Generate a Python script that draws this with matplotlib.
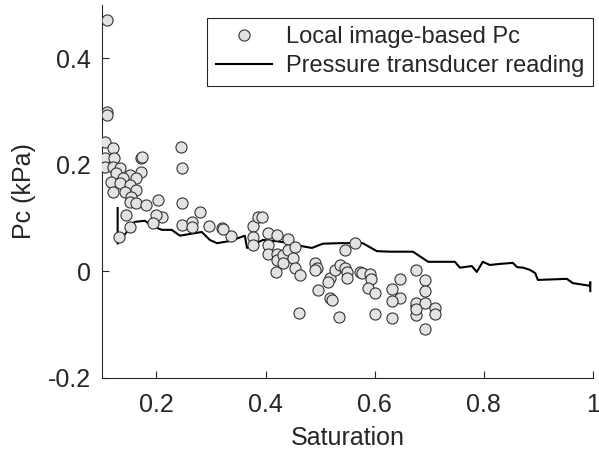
import numpy as np
import matplotlib.pyplot as plt

plt.rcParams['font.family'] = ['Liberation Sans', 'DejaVu Sans']

# image-based Pc (scatter)
sat_img = [0.109, 0.109, 0.109, 0.1055, 0.120, 0.1055, 0.122, 0.1055, 0.120, 0.133,
           0.171, 0.171, 0.126, 0.151, 0.138, 0.162, 0.117, 0.133, 0.151, 0.162,
           0.120, 0.142, 0.153, 0.151, 0.162, 0.181, 0.203, 0.245, 0.173,
           0.247, 0.247, 0.280, 0.144, 0.151, 0.131, 0.210, 0.199, 0.193,
           0.247, 0.265, 0.265, 0.296, 0.320, 0.336, 0.377, 0.386, 0.377, 0.377,
           0.322, 0.393, 0.404, 0.421, 0.441, 0.404, 0.404, 0.421, 0.421, 0.432,
           0.441, 0.454, 0.450, 0.432, 0.454, 0.463, 0.419, 0.490, 0.494, 0.490,
           0.496, 0.518, 0.514, 0.527, 0.518, 0.461, 0.534, 0.522, 0.545, 0.564,
           0.536, 0.545, 0.549, 0.549, 0.573, 0.577, 0.591, 0.593, 0.588, 0.600,
           0.646, 0.632, 0.646, 0.632, 0.676, 0.676, 0.676, 0.600, 0.632, 0.692,
           0.692, 0.676, 0.692, 0.710, 0.710, 0.692, 0.676]
pc_img = [0.472, 0.299, 0.294, 0.243, 0.232, 0.213, 0.213, 0.196, 0.196, 0.194,
          0.213, 0.187, 0.185, 0.181, 0.175, 0.175, 0.168, 0.166, 0.162, 0.153,
          0.149, 0.149, 0.140, 0.130, 0.129, 0.125, 0.134, 0.234, 0.215,
          0.194, 0.129, 0.112, 0.106, 0.083, 0.065, 0.102, 0.106, 0.090,
          0.087, 0.093, 0.083, 0.085, 0.082, 0.067, 0.085, 0.102, 0.065, 0.050,
          0.080, 0.102, 0.072, 0.068, 0.061, 0.050, 0.033, 0.033, 0.022, 0.031,
          0.040, 0.046, 0.025, 0.016, 0.007, -0.007, -0.001, 0.016, 0.007, 0.003,
          -0.035, -0.012, -0.020, 0.003, -0.050, -0.078, -0.085, -0.053, 0.040, 0.053,
          0.012, 0.007, -0.001, -0.012, -0.001, -0.003, -0.005, -0.014, -0.031, -0.040,
          -0.014, -0.033, -0.050, -0.055, 0.003, -0.065, -0.082, -0.080, -0.087, -0.016,
          -0.037, -0.059, -0.059, -0.068, -0.080, -0.108, -0.070]

# pressure transducer reading (line)
sat_pt = [0.129, 0.129, 0.160, 0.179, 0.193, 0.210, 0.228, 0.243, 0.283, 0.298,
          0.311, 0.335, 0.362, 0.366, 0.395, 0.417, 0.445, 0.463, 0.485, 0.505,
          0.536, 0.578, 0.604, 0.628, 0.670, 0.698, 0.747, 0.756, 0.778, 0.787,
          0.798, 0.811, 0.829, 0.853, 0.861, 0.872, 0.884, 0.894, 0.899, 0.952,
          0.963, 0.994, 0.995, 0.995]
pc_pt = [0.119, 0.052, 0.093, 0.095, 0.085, 0.078, 0.078, 0.067, 0.074, 0.059,
         0.053, 0.057, 0.067, 0.044, 0.059, 0.057, 0.053, 0.048, 0.044, 0.052,
         0.053, 0.053, 0.038, 0.037, 0.037, 0.018, 0.018, 0.007, 0.010, -0.001,
         0.018, 0.012, 0.014, 0.016, 0.008, 0.007, 0.003, -0.003, -0.016, -0.014,
         -0.022, -0.027, -0.020, -0.037]

xticks = [0.2, 0.4, 0.6, 0.8, 1.0]
xlabels = ['0.2', '0.4', '0.6', '0.8', '1']
yticks = [-0.2, 0, 0.2, 0.4]
ylabels = ['-0.2', '0', '0.2', '0.4']

tc = '#262626'
fig = plt.figure(figsize=(5.99, 4.57), dpi=100)
ax = fig.add_axes([0.170, 0.173, 0.820, 0.816])

ax.plot(sat_img, pc_img, 'o', ms=8, mfc='#e3e3e3', mec='#333333', mew=0.8,
        label='Local image-based Pc', zorder=3)
ax.plot(sat_pt, pc_pt, '-', color='black', lw=1.5,
        label='Pressure transducer reading', zorder=2)

ax.set_xlim(0.1, 1.0)
ax.set_ylim(-0.2, 0.5)
ax.set_xticks(xticks)
ax.set_xticklabels(xlabels)
ax.set_yticks(yticks)
ax.set_yticklabels(ylabels)
ax.tick_params(direction='in', length=5, width=0.8, colors=tc, labelsize=18)
ax.tick_params(axis='x', pad=11)
ax.tick_params(axis='y', pad=8)
for s in ['top', 'right']:
    ax.spines[s].set_visible(False)
for s in ['left', 'bottom']:
    ax.spines[s].set_color(tc)
    ax.spines[s].set_linewidth(0.8)

ax.set_xlabel('Saturation', fontsize=18, color=tc, labelpad=6)
ax.set_ylabel('Pc (kPa)', fontsize=18, color=tc, labelpad=8)

leg = ax.legend(loc='upper right', bbox_to_anchor=(1.0, 0.965), fontsize=17,
                fancybox=False, framealpha=1, edgecolor=tc, borderpad=0.35,
                handlelength=2.4, handletextpad=0.6, labelspacing=0.3,
                borderaxespad=0)
leg.get_frame().set_linewidth(0.8)
for t in leg.get_texts():
    t.set_color(tc)

fig.savefig('out.png', dpi=100)
